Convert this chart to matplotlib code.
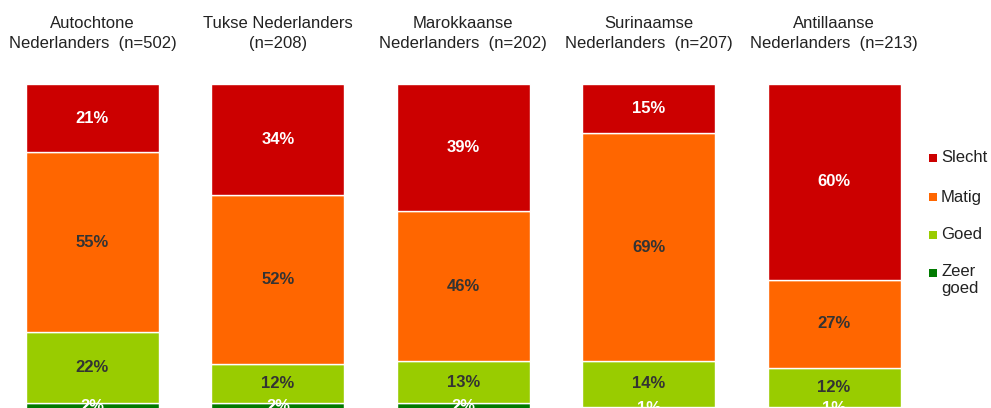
import matplotlib.pyplot as plt
import matplotlib.patches as patches
import numpy as np

plt.rcParams['font.family'] = ['Liberation Sans', 'DejaVu Sans']

# Data
groups = ['Autochtone\nNederlanders  (n=502)',
          'Tukse Nederlanders\n(n=208)',
          'Marokkaanse\nNederlanders  (n=202)',
          'Surinaamse\nNederlanders  (n=207)',
          'Antillaanse\nNederlanders  (n=213)']
categories = ['Zeer goed', 'Goed', 'Matig', 'Slecht']
zeer_goed = [2, 2, 2, 1, 1]
goed = [22, 12, 13, 14, 12]
matig = [55, 52, 46, 69, 27]
slecht = [21, 34, 39, 15, 60]

colors = ['#007A00', '#99CC00', '#FF6600', '#CC0000']
label_colors = ['white', '#333333', '#333333', 'white']
legend_labels = ['Slecht', 'Matig', 'Goed', 'Zeer\ngoed']

W, H = 991, 408
fig = plt.figure(figsize=(W / 100, H / 100), dpi=100)
# axes bottom sits just below the figure edge (reference is cropped)
ax = fig.add_axes([0, -2 / H, 1, (410 - 84) / H])
ax.axis('off')

series = np.array([zeer_goed, goed, matig, slecht], dtype=float)
shares = series / series.sum(axis=0) * 100  # 100% stacked
x = np.arange(len(groups))
bottom = np.zeros(len(groups))
for i, cat in enumerate(categories):
    bars = ax.bar(x, shares[i], 0.717, bottom=bottom, color=colors[i],
                  edgecolor='white', linewidth=1, label=cat)
    for j, b in enumerate(bars):
        ax.text(b.get_x() + b.get_width() / 2, bottom[j] + shares[i][j] / 2,
                f'{int(series[i][j])}%', ha='center', va='center',
                fontsize=12, fontweight='bold', color=label_colors[i])
    bottom += shares[i]

ax.set_xlim((0 - 92.5) / 185.4, (W - 92.5) / 185.4)
ax.set_ylim(0, 100)

# titles above each bar
trans = ax.get_xaxis_transform()
for j, g in enumerate(groups):
    ax.text(x[j], 1 + 50.5 / (410 - 84), g, transform=trans, ha='center',
            va='center', fontsize=12, color='#222222', linespacing=1.35,
            clip_on=False)

# legend drawn by hand
leg_y = [158, 197, 235, 273]
for lab, yy, c in zip(legend_labels, leg_y, colors[::-1]):
    fig.patches.append(patches.Rectangle((929 / W, 1 - (yy + 4) / H), 8 / W, 8 / H,
                                         transform=fig.transFigure, facecolor=c,
                                         edgecolor='none'))
    if '\n' in lab:
        fig.text(941 / W, 1 - (yy - 9) / H, lab, ha='left', va='top',
                 fontsize=12, color='#222222', linespacing=1.15)
    else:
        fig.text(941 / W, 1 - yy / H, lab, ha='left', va='center',
                 fontsize=12, color='#222222')

fig.savefig('out.png', dpi=100)
